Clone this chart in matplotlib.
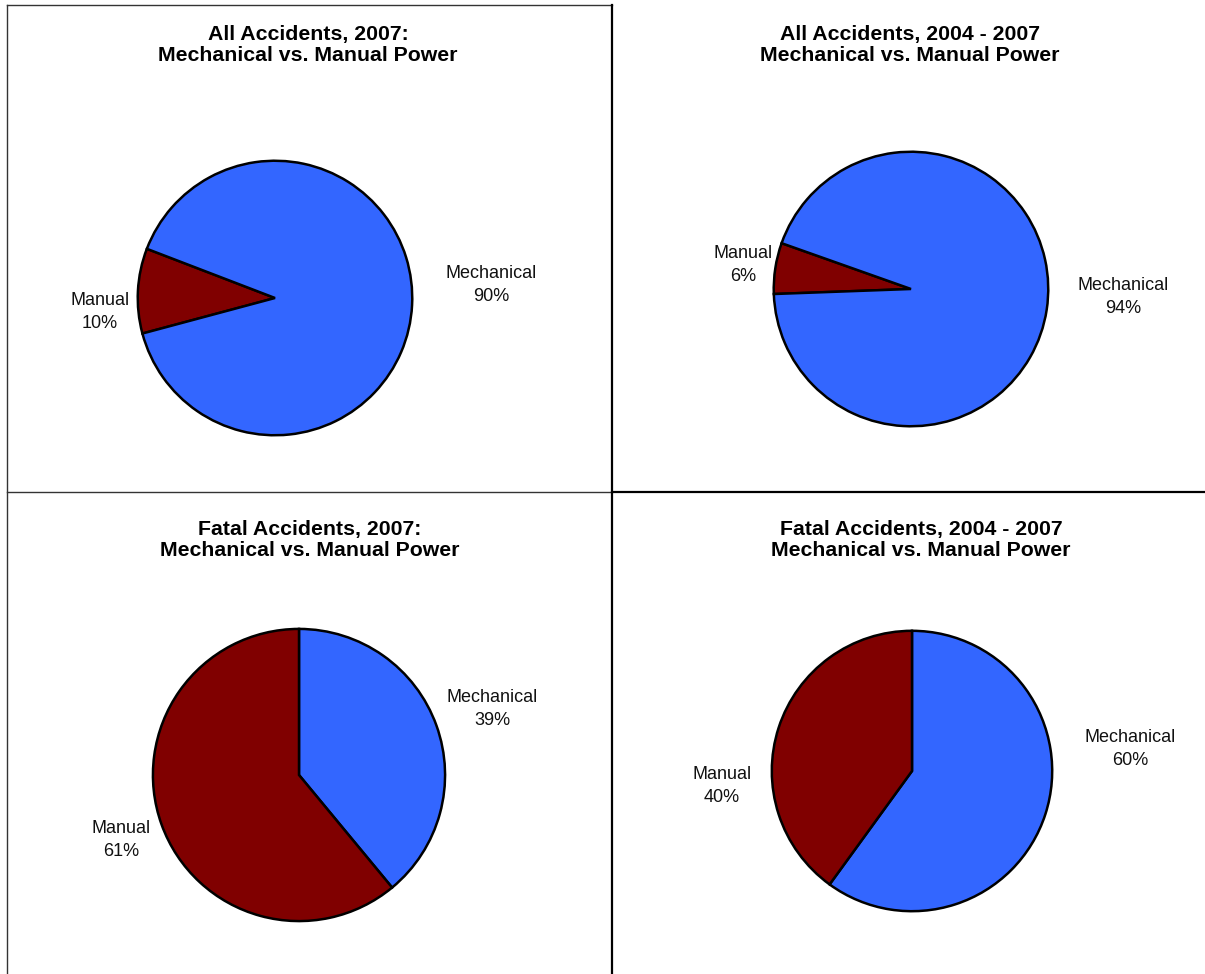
"""Four pie charts: mechanical vs. manual power accidents."""

import matplotlib

matplotlib.use("Agg")
import matplotlib.pyplot as plt
from matplotlib.lines import Line2D

plt.rcParams["font.family"] = ["Liberation Sans", "DejaVu Sans"]

W, H = 1205, 974

# data
titles = [
    "All Accidents, 2007:\nMechanical vs. Manual Power",
    "All Accidents, 2004 - 2007\nMechanical vs. Manual Power",
    "Fatal Accidents, 2007:\nMechanical vs. Manual Power",
    "Fatal Accidents, 2004 - 2007\nMechanical vs. Manual Power",
]
categories = ["Mechanical", "Manual"]
mechanical_pct = [90, 94, 39, 60]
manual_pct = [10, 6, 61, 40]

BLUE = "#3366FF"
DARKRED = "#800000"

# layout (pixels): pie centre, radius, start angle, direction, order
pie_layout = [
    dict(c=(275, 298), r=140, start=159, ccw=True, manual_first=True),
    dict(c=(911, 289), r=140, start=160.5, ccw=True, manual_first=True),
    dict(c=(299, 775), r=149, start=90, ccw=False, manual_first=False),
    dict(c=(912, 771), r=143, start=90, ccw=False, manual_first=False),
]
title_pos = [(308, 45), (910, 45), (310, 540), (921, 540)]
# label centres (pixels) for Mechanical, Manual
label_pos = [
    [(491, 285), (100, 312)],
    [(1123, 297), (743, 265)],
    [(492, 709), (121, 840)],
    [(1130, 749), (722, 786)],
]


def fx(x):
    return x / W


def fy(y):
    return 1 - y / H


fig = plt.figure(figsize=(W / 100, H / 100), dpi=100)

for i in range(4):
    lay = pie_layout[i]
    cx, cy = lay["c"]
    r = lay["r"]
    ax = fig.add_axes([fx(cx - r), fy(cy + r), 2 * r / W, 2 * r / H])
    if lay["manual_first"]:
        vals = [manual_pct[i], mechanical_pct[i]]
        cols = [DARKRED, BLUE]
    else:
        vals = [mechanical_pct[i], manual_pct[i]]
        cols = [BLUE, DARKRED]
    ax.pie(
        vals,
        colors=cols,
        startangle=lay["start"],
        counterclock=lay["ccw"],
        radius=1,
        wedgeprops=dict(edgecolor="black", linewidth=1.8),
    )
    ax.set_xlim(-1.02, 1.02)
    ax.set_ylim(-1.02, 1.02)
    ax.axis("off")

    tx, ty = title_pos[i]
    fig.text(fx(tx), fy(ty), titles[i], ha="center", va="center",
             fontsize=15.3, fontweight="bold", linespacing=1.1)

    for name, pct, (lx, ly) in zip(
        categories, [mechanical_pct[i], manual_pct[i]], label_pos[i]
    ):
        fig.text(fx(lx), fy(ly), f"{name}\n{pct}%", ha="center", va="center",
                 fontsize=13, linespacing=1.4, color="#111111")

# panel borders
thin = dict(color="#333333", linewidth=1.0)
thick = dict(color="black", linewidth=1.6)
fig.add_artist(Line2D([fx(7), fx(612)], [fy(5), fy(5)], **thin))
fig.add_artist(Line2D([fx(7.5), fx(7.5)], [fy(5), fy(974)], **thin))
fig.add_artist(Line2D([fx(7), fx(612)], [fy(492), fy(492)], **thin))
fig.add_artist(Line2D([fx(612), fx(1205)], [fy(492), fy(492)], **thick))
fig.add_artist(Line2D([fx(612), fx(612)], [fy(5), fy(974)], **thick))

plt.savefig("out.png", dpi=100)
